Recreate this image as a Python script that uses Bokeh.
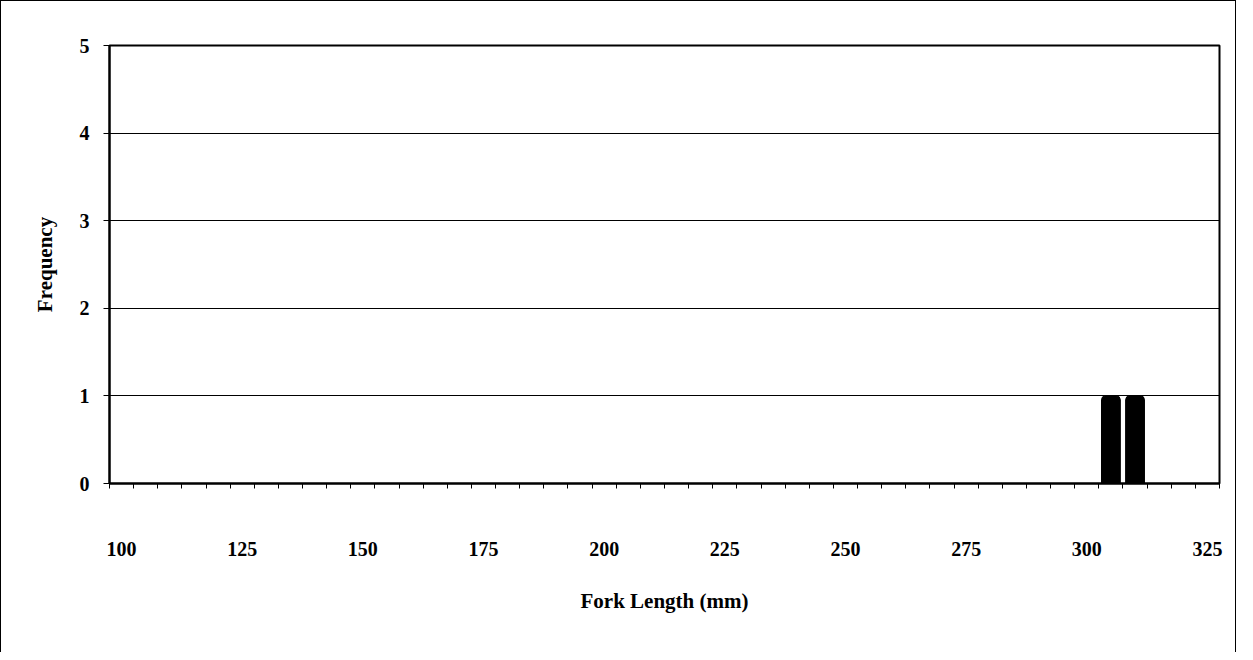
from bokeh.plotting import figure
from bokeh.models import Range1d, FixedTicker, ColumnDataSource
from bokeh.embed import file_html
from bokeh.resources import INLINE

# Data: 5 mm fork-length bins (bin centres) and frequencies
bins = [100, 105, 110, 115, 120, 125, 130, 135, 140, 145,
        150, 155, 160, 165, 170, 175, 180, 185, 190, 195,
        200, 205, 210, 215, 220, 225, 230, 235, 240, 245,
        250, 255, 260, 265, 270, 275, 280, 285, 290, 295,
        300, 305, 310, 315, 320, 325]
freq = [0, 0, 0, 0, 0, 0, 0, 0, 0, 0,
        0, 0, 0, 0, 0, 0, 0, 0, 0, 0,
        0, 0, 0, 0, 0, 0, 0, 0, 0, 0,
        0, 0, 0, 0, 0, 0, 0, 0, 0, 0,
        0, 1, 1, 0, 0, 0]
x_labels = [100, 125, 150, 175, 200, 225, 250, 275, 300, 325]
y_ticks = [0, 1, 2, 3, 4, 5]

half = (bins[1] - bins[0]) / 2
FONT = "Liberation Serif"

p = figure(width=1236, height=652, output_backend="svg", toolbar_location=None,
           x_range=Range1d(bins[0] - half, bins[-1] + half),
           y_range=Range1d(y_ticks[0], y_ticks[-1]),
           min_border_left=108, min_border_right=18,
           min_border_top=44, min_border_bottom=170)
p.styles = {"border-left": "1px solid black", "border-top": "1px solid black",
            "border-right": "1px solid black"}

src = ColumnDataSource(dict(x=bins, top=freq))
p.vbar(x="x", top="top", width=3.9, source=src, fill_color="black",
       line_color="black", border_radius=(4, 4, 0, 0))

boundaries = [b - half for b in bins] + [bins[-1] + half]
p.xaxis.ticker = FixedTicker(ticks=x_labels, minor_ticks=boundaries)
p.yaxis.ticker = FixedTicker(ticks=y_ticks, minor_ticks=[])

p.xgrid.grid_line_color = None
p.ygrid.grid_line_color = "black"
p.ygrid.grid_line_width = 1

p.outline_line_color = "black"
p.outline_line_width = 2

for ax in (p.xaxis, p.yaxis):
    ax.axis_line_color = "black"
    ax.axis_line_width = 2
    ax.major_label_text_font = FONT
    ax.major_label_text_font_style = "bold"
    ax.major_label_text_font_size = "20px"
    ax.major_label_text_color = "black"
    ax.axis_label_text_font = FONT
    ax.axis_label_text_font_style = "bold"
    ax.axis_label_text_font_size = "21px"
    ax.axis_label_text_color = "black"

p.xaxis.major_tick_out = 0
p.xaxis.major_tick_in = 0
p.xaxis.minor_tick_out = 5
p.xaxis.minor_tick_in = 0
p.xaxis.minor_tick_line_color = "black"
p.xaxis.major_label_standoff = 53
p.xaxis.axis_label = "Fork Length (mm)"
p.xaxis.axis_label_standoff = 30

p.yaxis.major_tick_out = 6
p.yaxis.major_tick_in = 0
p.yaxis.major_tick_line_color = "black"
p.yaxis.minor_tick_line_color = None
p.yaxis.major_label_standoff = 14
p.yaxis.axis_label = "Frequency"
p.yaxis.axis_label_standoff = 20

open("out.html", "w").write(file_html(p, INLINE))
